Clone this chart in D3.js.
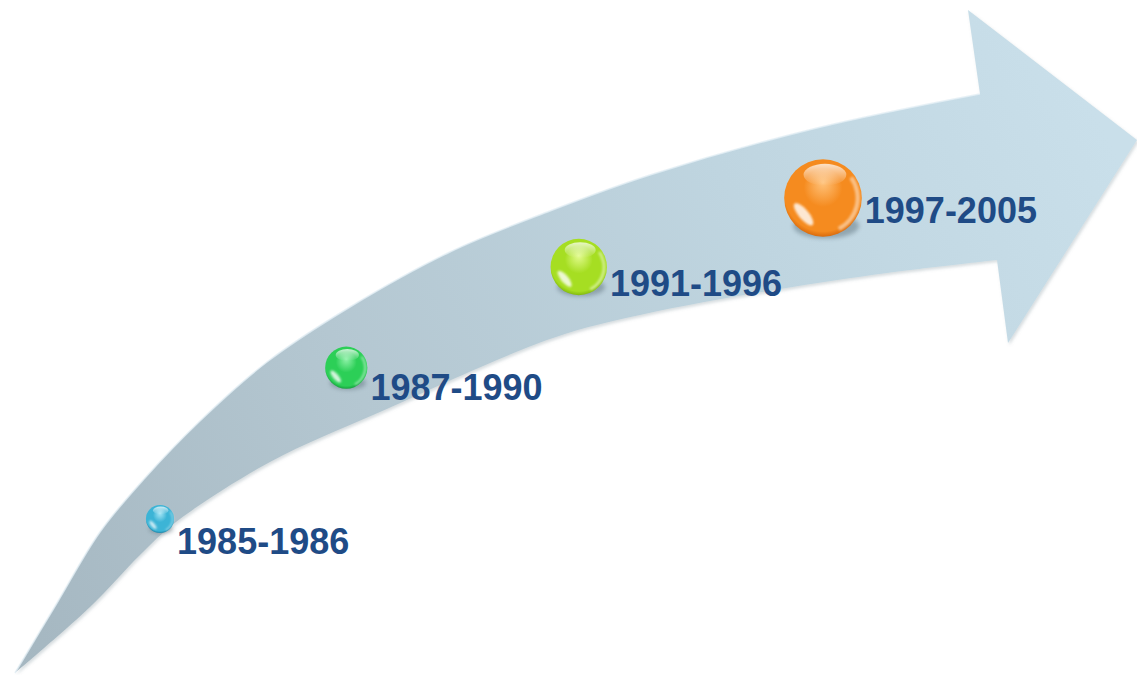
<!DOCTYPE html>
<html>
<head>
<meta charset="utf-8">
<script src="https://cdn.jsdelivr.net/npm/d3@7/dist/d3.min.js"></script>
<style>
  html, body { margin: 0; padding: 0; background: #ffffff; }
  svg { display: block; }
</style>
</head>
<body>
<svg id="chart" width="1137" height="675"></svg>
<script>
// ---- data ----
const categories = ["1985-1986", "1987-1990", "1991-1996", "1997-2005"];
const startYears = [1985, 1987, 1991, 1997];
const endYears   = [1986, 1990, 1996, 2005];

// ---- styles (kept apart from data) ----
const ballColors = [
  { light: "#a6e6f6", base: "#3cb4d6", dark: "#1a86aa" },
  { light: "#8ef2a8", base: "#2ccf57", dark: "#17a23e" },
  { light: "#e2fb8e", base: "#a6de22", dark: "#82ba0e" },
  { light: "#ffc27a", base: "#f58b1f", dark: "#d96a0c" }
];
const labelColor = "#1f4b86";

const svg = d3.select("#chart");
const defs = svg.append("defs");

// ---- arrow geometry (decorative shape) ----
const arrowUpper = [[15,673],[57,603],[100,532],[145,478],[200,421],[267,362],[350,307],[450,252],[550,211],[650,175],[817,128],[980,94]];
const arrowHead  = [[968,10],[1137,140],[1008,343],[997,260]];
const arrowLower = [[997,260],[887,273],[780,289],[640,315],[553,338],[380,412],[270,462],[176,522],[140,555],[90,607],[15,673]];

const curveLine = d3.line().curve(d3.curveCatmullRom.alpha(0.5));
const upperPath = curveLine(arrowUpper);
const lowerPath = curveLine(arrowLower).replace(/^M/, "L");
const headPath = arrowHead.map(p => "L" + p[0] + "," + p[1]).join("");
const arrowD = upperPath + headPath + lowerPath + "Z";

const ag = defs.append("linearGradient").attr("id", "arrowGrad")
  .attr("gradientUnits", "userSpaceOnUse")
  .attr("x1", 20).attr("y1", 660).attr("x2", 1100).attr("y2", 120);
ag.append("stop").attr("offset", 0).attr("stop-color", "#a5b7c1");
ag.append("stop").attr("offset", 0.35).attr("stop-color", "#b4c7d1");
ag.append("stop").attr("offset", 0.7).attr("stop-color", "#bfd5e0");
ag.append("stop").attr("offset", 1).attr("stop-color", "#c9dfea");

const shadowF = defs.append("filter").attr("id", "arrowShadow")
  .attr("x", "-5%").attr("y", "-5%").attr("width", "110%").attr("height", "110%");
shadowF.append("feDropShadow").attr("dx", 1.5).attr("dy", 2).attr("stdDeviation", 1.5)
  .attr("flood-color", "#7c8e98").attr("flood-opacity", 0.3);

svg.append("path")
  .attr("d", arrowD)
  .attr("fill", "url(#arrowGrad)")
  .attr("filter", "url(#arrowShadow)");

// light rim along the top edge
svg.append("path")
  .attr("d", curveLine(arrowUpper))
  .attr("fill", "none")
  .attr("stroke", "#e4eff5")
  .attr("stroke-width", 1.5)
  .attr("stroke-opacity", 0.8);

// ---- scales ----
const baseYear = d3.min(startYears) - 1;
const xPos = d3.scaleSqrt().domain([1, 13]).range([160, 823]);
const yPos = d3.scaleLog().domain([160, 823]).range([519, 198]);
const rScale = d3.scaleLinear().domain([0, 9]).range([7, 38.8]);

const data = categories.map((c, i) => {
  const elapsed = startYears[i] - baseYear;
  const duration = endYears[i] - startYears[i] + 1;
  const cx = xPos(elapsed);
  const cy = yPos(cx);
  const r = rScale(duration);
  return { label: c, cx, cy, r, color: ballColors[i], i };
});

// ---- ball gradients & filters ----
data.forEach(d => {
  const g = defs.append("radialGradient").attr("id", "ball" + d.i)
    .attr("cx", "50%").attr("cy", "45%").attr("r", "55%")
    .attr("fx", "50%").attr("fy", "30%");
  g.append("stop").attr("offset", 0).attr("stop-color", d.color.light);
  g.append("stop").attr("offset", 0.45).attr("stop-color", d.color.base);
  g.append("stop").attr("offset", 0.9).attr("stop-color", d.color.base);
  g.append("stop").attr("offset", 1).attr("stop-color", d.color.dark);
});
const hl = defs.append("linearGradient").attr("id", "topHL").attr("x1", 0).attr("y1", 0).attr("x2", 0).attr("y2", 1);
hl.append("stop").attr("offset", 0).attr("stop-color", "#ffffff").attr("stop-opacity", 0.75);
hl.append("stop").attr("offset", 1).attr("stop-color", "#ffffff").attr("stop-opacity", 0);

const blur = defs.append("filter").attr("id", "softBlur").attr("x", "-50%").attr("y", "-50%").attr("width", "200%").attr("height", "200%");
blur.append("feGaussianBlur").attr("stdDeviation", 2.2);
const blurSmall = defs.append("filter").attr("id", "smallBlur").attr("x", "-50%").attr("y", "-50%").attr("width", "200%").attr("height", "200%");
blurSmall.append("feGaussianBlur").attr("stdDeviation", 0.8);

const balls = svg.append("g").selectAll("g").data(data).join("g");

// shadow under ball
balls.append("ellipse")
  .attr("cx", d => d.cx + d.r * 0.08)
  .attr("cy", d => d.cy + d.r * 0.72)
  .attr("rx", d => d.r * 0.85)
  .attr("ry", d => d.r * 0.32)
  .attr("fill", "#566a75")
  .attr("opacity", 0.45)
  .attr("filter", "url(#softBlur)");

balls.append("circle")
  .attr("cx", d => d.cx).attr("cy", d => d.cy).attr("r", d => d.r)
  .attr("fill", d => "url(#ball" + d.i + ")");

// top soft highlight
balls.append("ellipse")
  .attr("cx", d => d.cx + d.r * 0.05)
  .attr("cy", d => d.cy - d.r * 0.6)
  .attr("rx", d => d.r * 0.55)
  .attr("ry", d => d.r * 0.28)
  .attr("fill", "url(#topHL)");

// bottom-left reflection crescent
balls.append("ellipse")
  .attr("transform", d => `translate(${d.cx - d.r * 0.5},${d.cy + d.r * 0.42}) rotate(50)`)
  .attr("rx", d => d.r * 0.36)
  .attr("ry", d => d.r * 0.13)
  .attr("fill", "#ffffff")
  .attr("opacity", 0.8)
  .attr("filter", "url(#smallBlur)");

// right rim light
balls.append("path")
  .attr("d", d => d3.arc().innerRadius(d.r * 0.84).outerRadius(d.r * 0.95)
      .startAngle(Math.PI * 0.3).endAngle(Math.PI * 0.85)())
  .attr("transform", d => `translate(${d.cx},${d.cy})`)
  .attr("fill", "#ffffff")
  .attr("opacity", 0.45)
  .attr("filter", "url(#smallBlur)");

// ---- labels ----
svg.append("g").selectAll("text").data(data).join("text")
  .attr("x", d => d.cx + d.r + 3)
  .attr("y", d => d.cy + 41 - 0.42 * d.r)
  .attr("font-family", "'Liberation Sans', Arial, sans-serif")
  .attr("font-weight", "bold")
  .attr("font-size", 36)
  .attr("fill", labelColor)
  .text(d => d.label);
</script>
</body>
</html>
